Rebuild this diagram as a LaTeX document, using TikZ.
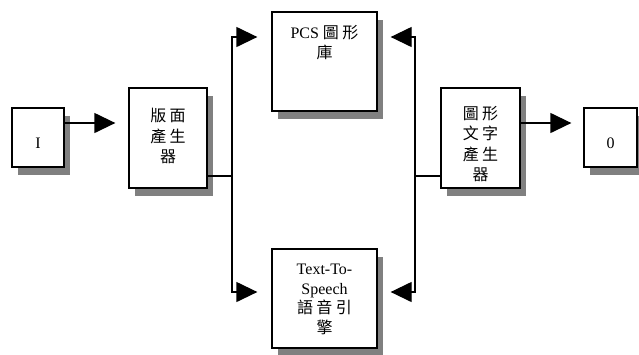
\documentclass[tikz,border=0pt]{standalone}
\usepackage{fontspec}
\setmainfont{Liberation Serif}
\newfontfamily\cjk{Noto Sans CJK TC}
\usetikzlibrary{arrows.meta,shadows}
\definecolor{shadowgray}{HTML}{808080}
\newcommand\myspc{\hspace{3.5pt}}
\tikzset{
  box/.style={draw=black, line width=1.3pt, fill=white, rectangle, inner sep=0pt,
    drop shadow={shadow xshift=6pt, shadow yshift=-8pt, fill=shadowgray, opacity=1}},
  txt/.style={align=center, inner sep=0pt, anchor=north, font=\fontsize{16}{20.5}\selectfont},
  line/.style={line width=1.3pt},
  arr/.style={line width=1.3pt, -{Triangle[length=21pt,width=20pt]}},
}
\begin{document}
\begin{tikzpicture}[x=1pt,y=-1pt]
\useasboundingbox (0,0) rectangle (639,354);
% boxes
\node[box, minimum width=52pt, minimum height=59pt] (I) at (38,137.5) {};
\node[box, minimum width=78pt, minimum height=100pt] (ban) at (168,138) {};
\node[box, minimum width=105pt, minimum height=99pt] (pcs) at (324.5,61.5) {};
\node[box, minimum width=105pt, minimum height=99pt] (tts) at (324.5,298.5) {};
\node[box, minimum width=79pt, minimum height=100pt] (gen) at (480.5,138) {};
\node[box, minimum width=53pt, minimum height=59pt] (O) at (610.5,137.5) {};
% texts
\node[txt, anchor=base] (tI) at (38,148) {I};
\node[txt, anchor=base] (tO) at (610.5,148) {0};
\node[txt] (tban) at (168,108) {\cjk 版\myspc 面\\\cjk 產\myspc 生\\\cjk 器};
\node[txt] (tgen) at (480.5,106) {\cjk 圖\myspc 形\\\cjk 文\myspc 字\\\cjk 產\myspc 生\\\cjk 器};
\node[txt] (tpcs) at (324.5,25) {PCS {\cjk 圖\myspc 形}\\\cjk 庫};
\node[txt, font=\fontsize{16}{19.5}\selectfont] (ttts) at (324.5,264) {Text-To-\\Speech\\{\cjk 語\myspc 音\myspc 引}\\\cjk 擎};
% bus coordinates
\coordinate (busL) at (232,176);
\coordinate (busR) at (415,176);
\coordinate (topY) at (0,37);
\coordinate (botY) at (0,292);
% connectors
\draw[arr] ([yshift=14.5pt]I.east) -- ([yshift=15pt,xshift=-13pt]ban.west);
\draw[line] (ban.east |- busL) -- (busL);
\draw[arr] (busL) |- ([xshift=-14pt]pcs.west |- topY);
\draw[arr] (busL) |- ([xshift=-14pt]tts.west |- botY);
\draw[line] (gen.west |- busR) -- (busR);
\draw[arr] (busR) |- ([xshift=13pt]pcs.east |- topY);
\draw[arr] (busR) |- ([xshift=13pt]tts.east |- botY);
\draw[arr] ([yshift=15pt]gen.east) -- ([yshift=14.5pt,xshift=-12pt]O.west);
\end{tikzpicture}
\end{document}
